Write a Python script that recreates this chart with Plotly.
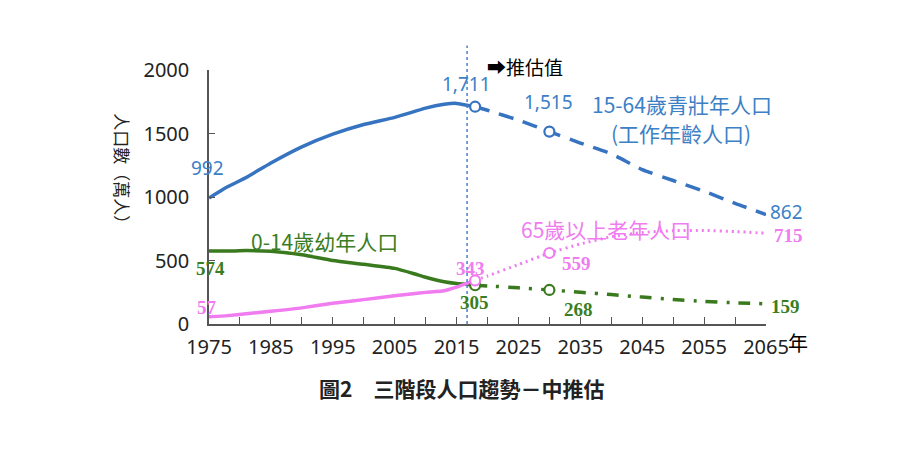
import plotly.graph_objects as go

# ---- data ----
years_hist = [1975, 1978, 1981, 1985, 1990, 1995, 2000, 2005, 2008, 2010, 2013, 2015, 2018]
working_hist = [992, 1080, 1153, 1268, 1395, 1495, 1571, 1627, 1670, 1700, 1730, 1737, 1711]
children_hist = [574, 574, 578, 572, 545, 500, 470, 438, 398, 368, 332, 318, 305]
elderly_hist = [57, 66, 80, 100, 127, 163, 192, 222, 238, 249, 262, 290, 343]

years_proj = [2018, 2020, 2025, 2030, 2035, 2040, 2045, 2050, 2055, 2060, 2065]
working_proj = [1711, 1683, 1605, 1515, 1425, 1340, 1215, 1130, 1045, 950, 862]
children_proj = [305, 300, 285, 268, 250, 232, 212, 193, 178, 167, 159]
elderly_proj = [343, 378, 468, 559, 630, 687, 720, 735, 737, 728, 715]

marker_years = [2018, 2030]
base_line_year = 2016.7

x_ticks = [1975, 1985, 1995, 2005, 2015, 2025, 2035, 2045, 2055, 2065]
y_ticks = [0, 500, 1000, 1500, 2000]
X0, X1 = 1975, 2065
Y0, Y1 = 0, 2000

BLUE = "#3673C0"
BLUE_T = "#3C80C6"
GREEN = "#3A7A1F"
GREEN_T = "#3A7D22"
PINK = "#F07CF0"
SANS = "Noto Sans, Noto Sans CJK TC, sans-serif"
CJK = "Noto Sans CJK TC, Noto Sans, sans-serif"
SERIF = "Liberation Serif, DejaVu Serif, serif"

# plot-area geometry (pixels in the 900x450 picture; page has 8px body margin)
PL, PR, PT, PB = 209, 766, 69.5, 324
OFF = 8

fig = go.Figure()

def pick(xs, ys, wanted):
    return [ys[xs.index(w)] for w in wanted]

SPL = dict(shape="spline", smoothing=0.5)
# historical lines
fig.add_trace(go.Scatter(x=years_hist, y=working_hist, mode="lines",
                         line=dict(color=BLUE, width=3.5, **SPL)))
fig.add_trace(go.Scatter(x=years_hist, y=children_hist, mode="lines",
                         line=dict(color=GREEN, width=3.5, **SPL)))
fig.add_trace(go.Scatter(x=years_hist, y=elderly_hist, mode="lines",
                         line=dict(color=PINK, width=3.5, **SPL)))

# projections
fig.add_trace(go.Scatter(x=years_proj, y=working_proj, mode="lines",
                         line=dict(color=BLUE, width=3.5, dash="15px,10px", **SPL)))
fig.add_trace(go.Scatter(x=years_proj, y=children_proj, mode="lines",
                         line=dict(color=GREEN, width=3.5, dash="12px,9px,3px,9px", **SPL)))
fig.add_trace(go.Scatter(x=years_proj, y=elderly_proj, mode="lines",
                         line=dict(color=PINK, width=3, dash="2px,4px", **SPL)))

# markers
for ys, col in [(children_proj, GREEN), (working_proj, BLUE), (elderly_proj, PINK)]:
    fig.add_trace(go.Scatter(x=marker_years, y=pick(years_proj, ys, marker_years), mode="markers",
                             marker=dict(symbol="circle", size=10, color="white",
                                         line=dict(color=col, width=2.2))))

# vertical base-year line
fig.add_shape(type="line", xref="x", yref="paper", x0=base_line_year, x1=base_line_year,
              y0=0, y1=(PB - 45) / (PB - PT), line=dict(color="#4A80CC", width=1.5, dash="dot"))


def ann_px(px, py, text, color, size, font, **kw):
    """place a text label centred at picture pixel (px, py)"""
    fig.add_annotation(x=(px - PL) / (PR - PL), y=(PB - py) / (PB - PT),
                       xref="x domain", yref="y domain", text=text, showarrow=False,
                       xanchor="center", yanchor="middle",
                       font=dict(color=color, size=size, family=font), **kw)

# blue labels
ann_px(207, 168, "992", BLUE_T, 19, SANS)
ann_px(466, 84, "1,711", BLUE_T, 19, SANS)
ann_px(548, 102, "1,515", BLUE_T, 19, SANS)
ann_px(786, 212, "862", BLUE_T, 19, SANS)
ann_px(682, 104, "15-64歲青壯年人口", BLUE_T, 21, CJK)
ann_px(681, 133, "(工作年齡人口)", BLUE_T, 21, CJK)

# green labels
ann_px(324, 241, "0-14歲幼年人口", GREEN_T, 21, CJK)
ann_px(210, 268, "<b>574</b>", GREEN_T, 19, SERIF)
ann_px(474, 302, "<b>305</b>", GREEN_T, 19, SERIF)
ann_px(578, 309, "<b>268</b>", GREEN_T, 19, SERIF)
ann_px(785, 306, "<b>159</b>", GREEN_T, 19, SERIF)

# pink labels
ann_px(606, 229, "65歲以上老年人口", PINK, 21, CJK)
ann_px(207, 307, "<b>57</b>", PINK, 19, SERIF)
ann_px(470, 268, "<b>343</b>", PINK, 19, SERIF)
ann_px(576, 263, "<b>559</b>", PINK, 19, SERIF)
ann_px(788, 235, "<b>715</b>", PINK, 19, SERIF)

# other text
ann_px(525, 66, "➡推估值", "black", 19, CJK)
ann_px(798, 343, "年", "black", 20, CJK)
ann_px(123, 172, "人口數（萬人）", "#222", 17, CJK, textangle=90)
ann_px(461, 388, "<b>圖2　三階段人口趨勢－中推估</b>", "#222", 21, CJK)

fig.update_layout(
    width=900, height=450,
    margin=dict(l=PL - OFF, r=900 - (PR - OFF), t=PT - OFF, b=450 - (PB - OFF)),
    paper_bgcolor="white", plot_bgcolor="white",
    showlegend=False,
    xaxis=dict(range=[X0, X1], tickvals=x_ticks, showgrid=False, zeroline=False,
               showline=True, linecolor="#555", linewidth=1.5,
               ticks="inside", ticklen=7, tickcolor="#555", tickwidth=1.2,
               minor=dict(dtick=5, tick0=1975, ticks="inside", ticklen=7, tickcolor="#555"),
               tickfont=dict(size=20, family=SANS, color="#222"), ticklabelstandoff=4),
    yaxis=dict(range=[Y0, Y1], tickvals=y_ticks, showgrid=False, zeroline=False,
               showline=True, linecolor="#555", linewidth=1.5,
               ticks="inside", ticklen=6, tickcolor="#555", tickwidth=1.2,
               tickfont=dict(size=20, family=SANS, color="#222"), ticklabelstandoff=14),
)

fig.write_html("out.html")
